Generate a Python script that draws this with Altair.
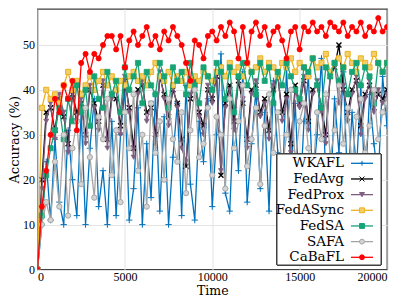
import altair as alt
import pandas as pd

time = list(range(0, 20001, 250))

names = ["WKAFL", "FedAvg", "FedProx", "FedASync", "FedSA", "SAFA", "CaBaFL"]

wkafl = [0, 10, 24, 11, 29, 15, 10, 31, 20, 12,
         35, 10, 27, 38, 14, 22, 10, 33, 12, 30,
         40, 11, 18, 36, 10, 28, 16, 39, 13, 34,
         10, 25, 37, 12, 41, 19, 11, 33, 24, 38,
         14, 30, 48, 17, 13, 36, 22, 44, 15, 28,
         40, 18, 35, 13, 42, 26, 16, 45, 21, 37,
         14, 33, 43, 19, 30, 47, 20, 15, 38, 26,
         44, 18, 35, 22, 41, 17, 39, 28, 20, 43,
         32]
fedavg = [0, 20, 35, 36, 31, 38, 34, 28, 39, 35,
          37, 30, 40, 37, 33, 41, 29, 39, 38, 32,
          42, 36, 27, 40, 41, 35, 36, 30, 43, 39,
          34, 40, 37, 29, 23, 38, 42, 35, 32, 40,
          38, 43, 21, 37, 41, 33, 42, 37, 29, 40,
          41, 35, 38, 31, 40, 43, 35, 39, 28, 41,
          37, 42, 33, 40, 41, 36, 30, 43, 45, 50,
          40, 35, 40, 42, 32, 39, 41, 36, 39, 38,
          40]
fedprox = [0, 18, 33, 37, 29, 39, 35, 26, 40, 33,
           38, 28, 41, 36, 31, 42, 27, 38, 40, 30,
           43, 35, 25, 39, 42, 33, 37, 28, 44, 38,
           32, 41, 36, 27, 24, 39, 43, 34, 30, 41,
           37, 44, 22, 36, 40, 31, 43, 38, 27, 39,
           42, 34, 37, 29, 41, 44, 33, 38, 26, 40,
           36, 43, 31, 39, 42, 35, 28, 44, 46, 37,
           41, 33, 39, 43, 30, 38, 42, 35, 40, 37,
           39]
fedasync = [0, 36, 40, 38, 39, 37, 41, 44, 40, 42,
            39, 41, 43, 40, 42, 44, 41, 43, 40, 42,
            41, 43, 44, 42, 43, 41, 44, 46, 43, 42,
            44, 41, 43, 42, 44, 41, 43, 42, 44, 43,
            42, 44, 45, 43, 46, 44, 45, 43, 46, 44,
            45, 47, 44, 46, 45, 43, 46, 45, 47, 44,
            46, 45, 43, 47, 45, 46, 48, 44, 46, 47,
            45, 48, 46, 44, 47, 46, 45, 48, 46, 44,
            46]
fedsa = [0, 12, 21, 27, 31, 36, 29, 38, 33, 41,
         35, 40, 32, 43, 38, 36, 44, 39, 42, 35,
         45, 40, 43, 46, 37, 44, 41, 39, 46, 43,
         36, 45, 42, 44, 39, 46, 41, 37, 45, 43,
         40, 46, 44, 38, 45, 35, 43, 46, 41, 44,
         39, 46, 42, 45, 37, 44, 41, 46, 43, 40,
         38, 45, 44, 47, 41, 36, 45, 43, 46, 42,
         45, 39, 44, 46, 41, 45, 43, 37, 46, 44,
         46]
safa = [0, 10, 15, 11, 24, 14, 30, 12, 27, 33,
        19, 36, 25, 16, 34, 29, 38, 21, 31, 15,
        35, 27, 39, 22, 30, 14, 37, 26, 33, 20,
        38, 29, 24, 35, 17, 31, 40, 25, 28, 36,
        21, 34, 30, 18, 38, 27, 33, 41, 23, 29,
        36, 19, 32, 39, 26, 35, 22, 30, 40, 24,
        33, 37, 27, 20, 35, 29, 39, 25, 31, 41,
        28, 36, 23, 34, 38, 26, 32, 40, 29, 35,
        37]
cabafl = [0, 14, 22, 30, 38, 35, 41, 38, 42, 31,
          46, 48, 44, 48, 47, 50, 52, 52, 49, 52,
          45, 51, 53, 50, 52, 54, 50, 52, 49, 53,
          51, 54, 52, 50, 46, 42, 51, 50, 47, 52,
          53, 51, 54, 52, 55, 53, 47, 54, 46, 53,
          55, 52, 54, 50, 53, 54, 51, 47, 53, 54,
          49, 54, 53, 55, 53, 54, 52, 55, 54, 53,
          55, 52, 54, 53, 55, 52, 54, 53, 56, 53,
          54]

series_values = [wkafl, fedavg, fedprox, fedasync, fedsa, safa, cabafl]
colors = ["#0072BD", "#000000", "#7E5E80", "#EDB120", "#16A477", "#A5A5A5", "#FF0000"]
fills = ["#0072BD", "#000000", "#7E5E80", "#F3CF6A", "#16A477", "#D4D4D4", "#FF0000"]

rows = []
for n, vals in zip(names, series_values):
    for t, v in zip(time, vals):
        rows.append({"series": n, "time": t, "acc": v})
df = pd.DataFrame(rows)
legend_df = pd.DataFrame({"series": names})

FONT = "DejaVu Serif"
TICKFONT = "Liberation Serif"

W, H = 349.5, 260.5

xenc = alt.X("time:Q",
             scale=alt.Scale(domain=[0, 20000], nice=False, zero=False),
             axis=alt.Axis(values=[0, 5000, 10000, 15000, 20000], title="Time",
                           format="d", labelPadding=2, titleY=24.7, titleFontSize=12.5,
                           titleBaseline="alphabetic"))
yenc = alt.Y("acc:Q",
             scale=alt.Scale(domain=[0, 58], nice=False),
             axis=alt.Axis(values=[0, 10, 20, 30, 40, 50], title="Accuracy (%)",
                           labelPadding=3, titlePadding=1))

marker_shapes = ["M-1,0H1M0,-1V1", "M-1,-1L1,1M-1,1L1,-1", "triangle-down",
                 "square", "square", "circle", "circle"]
marker_sizes = [40, 25, 24, 26, 26, 28, 26]
marker_filled = [False, False, True, True, True, True, True]
marker_sw = [1.0, 1.4, 0.8, 1.0, 0.8, 1.0, 0.8]

layers = []
for i, n in enumerate(names):
    base = alt.Chart(df).transform_filter(alt.datum.series == n)
    line = base.mark_line(color=colors[i], strokeWidth=1.3, clip=True).encode(x=xenc, y=yenc)
    if marker_filled[i]:
        pts = base.mark_point(shape=marker_shapes[i], size=marker_sizes[i], filled=True,
                              fill=fills[i], stroke=colors[i], strokeWidth=marker_sw[i],
                              opacity=1, clip=True).encode(x=xenc, y=yenc)
    else:
        pts = base.mark_point(shape=marker_shapes[i], size=marker_sizes[i], filled=False,
                              stroke=colors[i], strokeWidth=marker_sw[i],
                              opacity=1, clip=True).encode(x=xenc, y=yenc)
    layers += [line, pts]

main = alt.layer(*layers)

# legend drawn as its own small layer (labels left, line+marker right)
row_y = alt.Y("series:N", scale=alt.Scale(type="point", domain=names,
                                          range=[154.3, 248.3], padding=0), axis=None)
leg_box = alt.Chart(legend_df).mark_rect(fill="white", stroke="#404040", strokeWidth=1).encode(
    x=alt.value(239.5), x2=alt.value(343.5), y=alt.value(145), y2=alt.value(256))
leg_text = alt.Chart(legend_df).mark_text(align="right", baseline="middle", font=FONT,
                                          fontSize=13.5, color="#000000").encode(
    x=alt.value(306.5), y=row_y, text="series:N")
leg_line = alt.Chart(legend_df).mark_rule(strokeWidth=1.3).encode(
    x=alt.value(313.5), x2=alt.value(335.5), y=row_y,
    color=alt.Color("series:N", scale=alt.Scale(domain=names, range=colors), legend=None))
leg_mark = alt.Chart(legend_df).mark_point(opacity=1, size=24, strokeWidth=1).encode(
    x=alt.value(324.5), y=row_y,
    shape=alt.Shape("series:N", scale=alt.Scale(domain=names, range=marker_shapes), legend=None),
    stroke=alt.Stroke("series:N", scale=alt.Scale(domain=names, range=colors), legend=None),
    fill=alt.Fill("series:N", scale=alt.Scale(domain=names, range=fills), legend=None))
legend = alt.layer(leg_box, leg_text, leg_line, leg_mark)

chart = alt.layer(main, legend).resolve_scale(y="independent").properties(
    width=W, height=H,
    autosize=alt.AutoSizeParams(type="none"),
    padding={"left": 29.5, "top": 1, "right": 12, "bottom": 27.5},
    background="white",
).configure_view(
    stroke="#404040", strokeWidth=1.3
).configure_axis(
    grid=True, gridColor="#e3e3e3", gridWidth=1, ticks=False, domain=False,
    labelFont=TICKFONT, labelFontSize=12, labelColor="#000000",
    titleFont=FONT, titleFontSize=13, titleFontWeight="normal", titleColor="#000000",
)

chart.save("out.html", embed_options={"renderer": "svg", "actions": False})
